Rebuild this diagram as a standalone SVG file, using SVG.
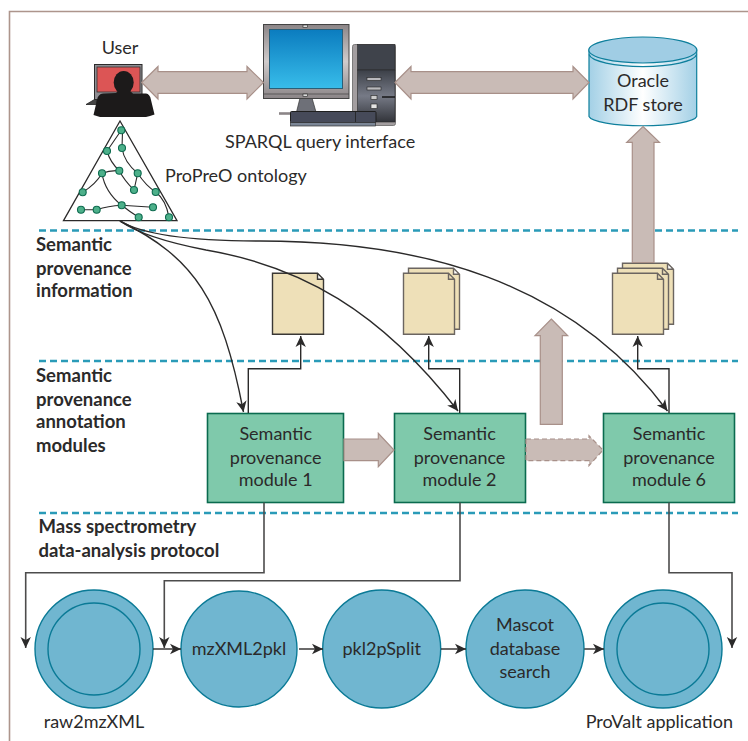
<svg xmlns="http://www.w3.org/2000/svg" width="748" height="741" viewBox="0 0 748 741">
<style>
text{font-family:"Lato","Open Sans","Liberation Sans",sans-serif;fill:#2b2a2a;font-size:18px}
.m{text-anchor:middle}
.b{font-weight:700;font-size:18.5px}
.dash{stroke:#2a9bb8;stroke-width:2.6;stroke-dasharray:7 4;fill:none}
.wide{fill:#c9bbb6;stroke:#a89089;stroke-width:1.2}
.wd{fill:#c9bbb6;stroke:#a89089;stroke-width:1.2;stroke-dasharray:5 3}
.mod{fill:#7fc9ab;stroke:#0a6b4f;stroke-width:1.6}
.cir{fill:#70b6d0;stroke:#0a7a96;stroke-width:1.4}
.in{fill:none;stroke:#0a7a96;stroke-width:1.4}
.page{fill:#eee0b8;stroke:#6b6560;stroke-width:1.4}
.ln{fill:none;stroke:#2b2a2a;stroke-width:1.4}
.gl{fill:none;stroke:#4d4c4c;stroke-width:1.6}
.arr{marker-end:url(#ah)}
.tree{fill:none;stroke:#2b2a2a;stroke-width:1.1}
.on{fill:#4db08a;stroke:#0d6b4f;stroke-width:1.1}
</style>
<defs>
<marker id="ah" markerUnits="userSpaceOnUse" markerWidth="12" markerHeight="12" refX="11" refY="6" orient="auto"><path d="M0,0.8 L11,6 L0,11.2 L3,6 Z" fill="#2b2a2a"/></marker>
<linearGradient id="cyl" x1="0" x2="1" y1="0" y2="0"><stop offset="0" stop-color="#a3d0e6"/><stop offset="0.5" stop-color="#ffffff"/><stop offset="1" stop-color="#a3d0e6"/></linearGradient>
<linearGradient id="scr" x1="0" x2="0" y1="0" y2="1"><stop offset="0" stop-color="#0b7cbf"/><stop offset="1" stop-color="#38bdea"/></linearGradient>
<linearGradient id="mon" x1="0" x2="0" y1="0" y2="1"><stop offset="0" stop-color="#8b8587"/><stop offset="0.5" stop-color="#d0cbcb"/><stop offset="1" stop-color="#8b8587"/></linearGradient>
<linearGradient id="twr" x1="0" x2="0" y1="0" y2="1"><stop offset="0" stop-color="#3c4048"/><stop offset="0.5" stop-color="#767a86"/><stop offset="1" stop-color="#32343a"/></linearGradient>
<path id="pg" d="M0,0 H45 L51,6 V61 H0 Z M45,0 V6 H51"/>
</defs>
<rect width="748" height="741" fill="#fff"/>
<path d="M9.5,741 V11.5 H748" fill="none" stroke="#ad958c" stroke-width="1.6"/>
<g id="separators">
<path class="dash" d="M39,230.5 H738"/>
<path class="dash" d="M39,361 H738"/>
<path class="dash" d="M39,513 H738"/>
</g>
<g id="user">
<path d="M86,104.5 L97,98 V104.5 Z" fill="#444" stroke="#222" stroke-width="0.8"/>
<rect x="94.5" y="64.5" width="47.5" height="35" fill="#8f8d92" stroke="#2b2a2a" stroke-width="1"/>
<rect x="97" y="67" width="43" height="25" fill="#dc5555" stroke="#333" stroke-width="0.8"/>
<ellipse cx="123.7" cy="82.5" rx="10" ry="11.5" fill="#1c1a1a"/>
<path d="M118,91 H130 L133,93.5 L146,93.5 Q150,94 151,100 L154.5,114.5 L150,116 L146,117 H100 L93.5,115 L97,100 Q98,94 103,93.5 L116,93 Z" fill="#1c1a1a"/>
<text class="m" x="120" y="53.5">User</text>
</g>
<g id="ontology">
<path d="M120,121 L63.5,220.7 H177 Z" fill="#fff" stroke="#2b2a2a" stroke-width="1.3"/>
<path class="tree" d="M121.3,130.3 L107,151 M122.5,132 L122,148 M122,148 Q124,162 137.7,173.3 Q146,186 155.7,192 Q166,200 169,217.3 M107,151 Q110,162 119.3,170.7 Q124,180 134,190 M102,173.3 Q110,170 119.3,170.7 M102,173.3 Q96,184 82.7,192.3 M102,173.3 Q105,192 121.7,205.3 M137.7,173.3 L134,190 M81,209.7 H96.7 Q108,206 121.7,205.3 L153,207.3 M121.7,205.3 Q130,212 138.7,217.3"/>
<g class="on">
<circle cx="121.3" cy="130.3" r="3.5"/><circle cx="122" cy="148" r="3.5"/><circle cx="107" cy="151" r="3.5"/><circle cx="102" cy="173.3" r="3.5"/><circle cx="119.3" cy="170.7" r="3.5"/><circle cx="137.7" cy="173.3" r="3.5"/><circle cx="134" cy="190" r="3.5"/><circle cx="155.7" cy="192" r="3.5"/><circle cx="82.7" cy="192.3" r="3.5"/><circle cx="81" cy="209.7" r="3.5"/><circle cx="96.7" cy="209.7" r="3.5"/><circle cx="121.7" cy="205.3" r="3.5"/><circle cx="153" cy="207.3" r="3.5"/><circle cx="138.7" cy="217.3" r="3.5"/><circle cx="169" cy="217.3" r="3.5"/>
</g>
<text x="165" y="181.7">ProPreO ontology</text>
</g>
<g id="computer">
<path d="M279,113.5 H291" stroke="#8b8587" stroke-width="2.6" fill="none"/>
<path d="M300,98 H312 L316,112 H296.5 Z" fill="#6e7078" stroke="#333" stroke-width="0.7"/>
<rect x="352.5" y="44.5" width="43" height="81" rx="2" fill="#a39ea0" stroke="#666" stroke-width="0.8"/>
<rect x="357.5" y="44.5" width="37.5" height="25.5" fill="#3f434b" stroke="#2a2a2a" stroke-width="0.6"/>
<path d="M357.5,70 H395 V122 H357.5 Z" fill="url(#twr)" stroke="#2a2a2a" stroke-width="0.6"/>
<rect x="367" y="77.5" width="14" height="3" fill="#b9b9bd" stroke="#222" stroke-width="0.6"/>
<rect x="367" y="87" width="14" height="3" fill="#b9b9bd" stroke="#222" stroke-width="0.6"/>
<rect x="371" y="95.5" width="6" height="4" fill="#ccc" stroke="#222" stroke-width="0.6"/>
<rect x="371" y="104" width="6" height="4.5" fill="#e4e4e4" stroke="#222" stroke-width="0.6"/>
<path d="M382,97 H395" stroke="#111" stroke-width="1.4"/>
<rect x="263.5" y="24.5" width="85.5" height="74" fill="url(#mon)" stroke="#444" stroke-width="1"/>
<path d="M263.5,94 H349" stroke="#444" stroke-width="0.7"/>
<rect x="269.5" y="29.5" width="73" height="59" fill="url(#scr)" stroke="#2a5f78" stroke-width="1"/>
<rect x="303" y="25" width="4.5" height="2.5" fill="#ddd" stroke="#222" stroke-width="0.6"/>
<rect x="303" y="94" width="4.5" height="2.5" fill="#ddd" stroke="#222" stroke-width="0.6"/>
<rect x="290.5" y="111.5" width="85.5" height="11" rx="1" fill="#464a59" stroke="#1f1f1f" stroke-width="1"/>
<path d="M355.5,111.5 V122" stroke="#1f1f1f" stroke-width="0.8"/>
<rect x="290.5" y="122.5" width="85" height="3.5" fill="#7b8696" stroke="#333" stroke-width="0.7"/>
<text x="225" y="147.7">SPARQL query interface</text>
</g>
<g id="oracle">
<path d="M589,50 V116.5 A54,10 0 0 0 696.7,116.5 V50 Z" fill="url(#cyl)" stroke="#0e7f9c" stroke-width="1.2"/>
<path d="M589,54.5 A54,13 0 0 0 696.7,54.5" fill="none" stroke="#0e7f9c" stroke-width="1.2"/>
<ellipse cx="642.8" cy="50" rx="54" ry="13" fill="#a0cde4" stroke="#0e7f9c" stroke-width="1.2"/>
<text class="m" x="643" y="86.7">Oracle</text>
<text class="m" x="643" y="110.7">RDF store</text>
</g>
<g id="doc1"><use href="#pg" class="page" x="272.5" y="273.3" style="stroke:#3a3835"/></g>
<g id="doc2"><use href="#pg" class="page" x="408.5" y="268.3"/><use href="#pg" class="page" x="403.5" y="273.3"/></g>
<g id="doc3"><use href="#pg" class="page" x="622.5" y="263.3"/><use href="#pg" class="page" x="617.5" y="268.3"/><use href="#pg" class="page" x="612.5" y="273.3"/></g>
<g id="module1"><rect class="mod" x="207.5" y="413.5" width="136" height="89"/><text class="m" x="275.7" y="440">Semantic</text><text class="m" x="275.7" y="464">provenance</text><text class="m" x="275.7" y="486">module 1</text></g>
<g id="module2"><rect class="mod" x="394.5" y="413.5" width="131" height="89"/><text class="m" x="459.5" y="440">Semantic</text><text class="m" x="459.5" y="464">provenance</text><text class="m" x="459.5" y="486">module 2</text></g>
<g id="module6"><rect class="mod" x="603.5" y="413.5" width="131" height="89"/><text class="m" x="669" y="440">Semantic</text><text class="m" x="669" y="464">provenance</text><text class="m" x="669" y="486">module 6</text></g>
<g id="raw2mzXML"><circle class="cir" cx="94" cy="649" r="59"/><circle class="in" cx="94" cy="649" r="46"/><text class="m" x="94" y="727.7">raw2mzXML</text></g>
<g id="mzXML2pkl"><circle class="cir" cx="239" cy="649" r="58"/><text class="m" x="239" y="655">mzXML2pkl</text></g>
<g id="pkl2pSplit"><circle class="cir" cx="381.7" cy="649" r="59"/><text class="m" x="381.7" y="655">pkl2pSplit</text></g>
<g id="mascot"><circle class="cir" cx="525" cy="649" r="59"/><text class="m" x="525" y="630.7">Mascot</text><text class="m" x="525" y="655">database</text><text class="m" x="525" y="677.7">search</text></g>
<g id="provalt"><circle class="cir" cx="663" cy="649" r="59"/><circle class="in" cx="663" cy="649" r="46"/><text x="585.7" y="727.7">ProValt application</text></g>
<g id="labels">
<text class="b" x="36" y="250.7">Semantic</text><text class="b" x="36" y="275">provenance</text><text class="b" x="36" y="297.3">information</text>
<text class="b" x="36" y="381.7">Semantic</text><text class="b" x="36" y="406">provenance</text><text class="b" x="36" y="428.3">annotation</text><text class="b" x="36" y="452.3">modules</text>
<text class="b" x="38.5" y="533.3">Mass spectrometry</text><text class="b" x="38.5" y="556.7">data-analysis protocol</text>
</g>
<g id="connectors">
<path class="wide" d="M141.7,82.5 L158,66.5 V71.7 H247 V66.5 L263.5,82.5 L247,99 V93.3 H158 V99 Z"/>
<path class="wide" d="M395,82.5 L411,66.5 V71.7 H573 V66.5 L589,82.5 L573,99 V93.3 H411 V99 Z"/>
<path class="wide" d="M643,126.5 L659.5,142.3 H654 V262.5 H632.3 V142.3 H626.7 Z"/>
<path class="wide" d="M551.3,319 L567.7,335.7 H562.3 V424.3 H540.3 V335.7 H535 Z"/>
<path class="wide" d="M344,439 H378.3 V433.3 L394,450 L378.3,466.7 V460.7 H344 Z"/>
<path class="wd" d="M526,439 H589 V435.7 L603,450 L589,465.7 V460.7 H526 Z"/>
<path class="ln arr" d="M120,221 C195,258 222,300 243.5,412"/>
<path class="ln arr" d="M120,221 C140,235 175,244 206,250 C300,266 380,310 458,411"/>
<path class="ln arr" d="M120,221 C145,236 200,241 260,241 C420,241 570,280 667.5,411"/>
<path class="ln arr" d="M248.3,413 V368.7 H300.7 V336"/>
<path class="ln arr" d="M459.7,413 V368.7 H428.7 V336"/>
<path class="ln arr" d="M669,413 V368.7 H637.7 V336"/>
<path class="gl arr" d="M264,502.5 V572.7 H25.7 V648"/>
<path class="gl arr" d="M460,502.5 V580.7 H164.3 V648"/>
<path class="gl arr" d="M669,502.5 V572.7 H732 V648"/>
<path class="ln arr" d="M153,649 H181"/>
<path class="ln arr" d="M299,649 H323"/>
<path class="ln arr" d="M441,649 H466"/>
<path class="ln arr" d="M584.3,649 H604"/>
</g>
</svg>
